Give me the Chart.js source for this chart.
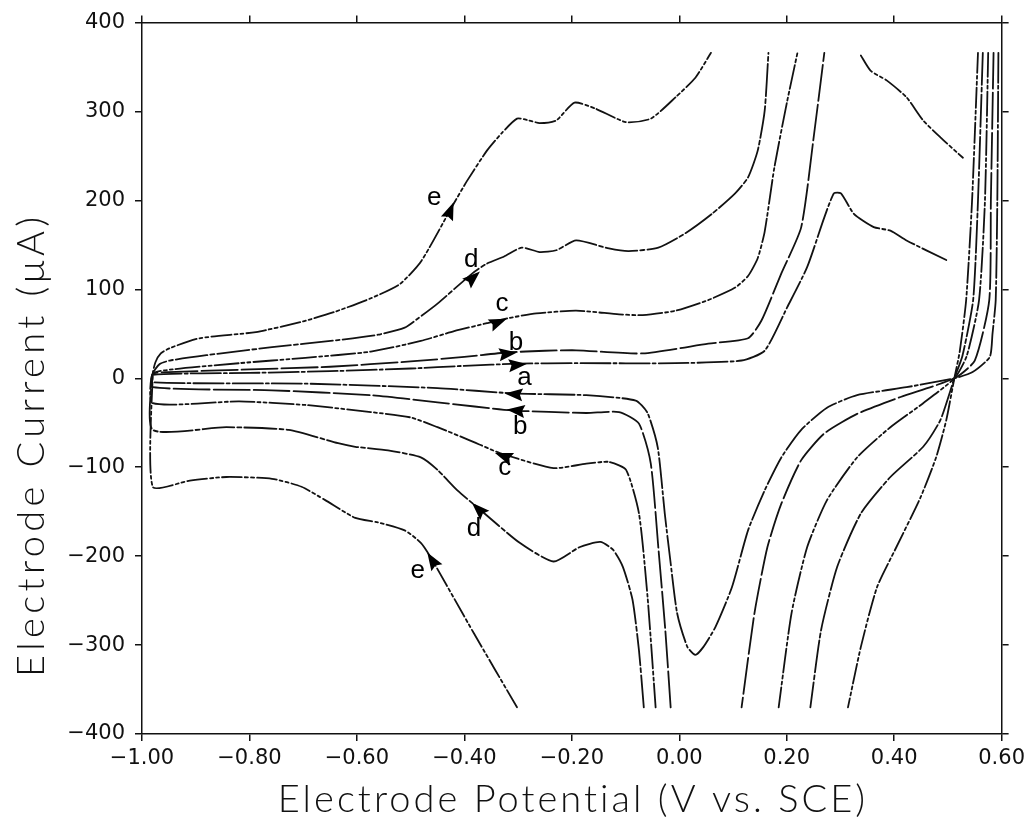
<!DOCTYPE html>
<html>
<head>
<meta charset="utf-8">
<title>Cyclic voltammograms a–e</title>
<script src="https://cdn.jsdelivr.net/npm/chart.js@4.4.1/dist/chart.umd.min.js"></script>
<style>
  html, body { margin: 0; padding: 0; background: #fff; }
  #wrap { width: 1030px; height: 829px; }
</style>
</head>
<body>
<div id="wrap"><canvas id="cv" width="1030" height="829"></canvas></div>
<script>
// Potential (V vs. SCE) and current (µA) for each sweep; null marks where the trace leaves the recorder range.
const curveAPotential = [0.594,0.592,0.589,0.583,0.578,0.546,0.512,0.423,0.331,0.275,0.227,0.190,0.159,0.128,0.098,0.067,0.045,0.030,0.015,-0.004,-0.016,-0.027,-0.040,-0.059,-0.081,-0.173,-0.308,-0.450,-0.696,-0.980,-0.980,-0.80,-0.65,-0.50,-0.40,-0.30,-0.192,-0.007,0.116,0.159,0.201,0.238,0.270,0.288,0.301,0.325,0.362,0.393,0.423,0.497];
const curveACurrent   = [366,200,88,50,24,7,0,-10,-19,-33,-58,-89,-126,-171,-235,-280,-302,-311,-302,-264,-208,-152,-78,-39,-25,-19,-17,-11,-6,-4.5,4,6,8,11,14,16.5,17,17,20,31,80,125,181,208,208,185,170,166,155,133];

const curveBPotential = [0.585,0.580,0.577,0.550,0.512,0.412,0.331,0.270,0.227,0.190,0.164,0.140,0.116,null,-0.016,-0.026,-0.039,-0.053,-0.075,-0.112,-0.173,-0.312,-0.450,-0.574,-0.758,-0.980,-0.980,-0.95,-0.80,-0.65,-0.50,-0.40,-0.321,-0.25,-0.192,-0.068,0.054,0.128,0.153,0.190,0.227,0.251,0.270];
const curveBCurrent   = [366,200,88,20,0,-21,-40,-62,-92,-141,-190,-264,-370,null,-370,-283,-190,-96,-51,-38,-39,-36,-27,-19,-13.5,-10,5,7,10,13,19,24,29,31,31.5,28,39,45,65,118,170,275,366];

const curveCPotential = [0.575,0.569,0.558,0.535,0.512,0.454,0.393,0.331,0.275,0.238,0.209,0.185,null,-0.044,-0.059,-0.075,-0.099,-0.131,-0.173,-0.234,-0.334,-0.389,-0.450,-0.500,-0.574,-0.696,-0.819,-0.980,-0.980,-0.943,-0.819,-0.696,-0.574,-0.481,-0.419,-0.358,-0.315,-0.266,-0.192,-0.112,-0.068,-0.007,0.054,0.104,0.128,0.146,0.159,0.177,0.201,0.220];
const curveCCurrent   = [366,200,88,25,0,-28,-55,-89,-137,-190,-264,-370,null,-370,-246,-152,-103,-94,-96,-101,-84,-70,-55,-44,-38,-30,-26,-28,5,10,17,23,30,42,53,62,68,73,76,72,71,76,88,102,115,135,165,237,312,366];

const curveDPotential = [0.565,0.556,0.547,0.527,0.512,0.486,0.454,0.393,0.338,0.294,0.264,0.244,null,-0.066,-0.075,-0.087,-0.105,-0.123,-0.147,-0.186,-0.234,-0.297,-0.376,-0.413,-0.450,-0.481,-0.542,-0.603,-0.635,-0.727,-0.843,-0.980,-0.980,-0.967,-0.948,-0.880,-0.758,-0.635,-0.561,-0.511,-0.487,-0.450,-0.385,-0.358,-0.326,-0.293,-0.260,-0.229,-0.192,-0.131,-0.094,-0.039,0.011,0.061,0.104,0.128,0.146,0.159,0.166];
const curveDCurrent   = [366,200,88,25,0,-47,-77,-111,-152,-212,-283,-370,null,-370,-306,-249,-212,-193,-184,-190,-206,-185,-145,-126,-103,-89,-81,-77,-73,-58,-55,-58,5,16,20,26,35,43,49,57,67,84,118,129,137,147,142,144,155,146,143,147,163,185,208,226,256,301,366];

const curveEPotential = [0.556,0.545,0.534,0.522,0.512,0.497,0.478,0.449,0.404,0.368,0.338,0.314,null,-0.302,-0.382,-0.463,-0.481,-0.511,-0.561,-0.603,-0.659,-0.703,-0.758,-0.843,-0.911,-0.980,-0.980,-0.975,-0.965,-0.948,-0.893,-0.788,-0.700,-0.640,-0.574,-0.520,-0.480,-0.422,-0.395,-0.358,-0.330,-0.302,-0.280,-0.260,-0.229,-0.195,-0.155,-0.099,-0.053,-0.007,0.030,0.059,null,0.338,0.356,0.386,0.423,0.454,0.486,0.528];
const curveECurrent   = [366,200,88,30,0,-47,-89,-134,-190,-235,-302,-370,null,-370,-287,-201,-185,-171,-162,-157,-137,-122,-113,-111,-115,-122,5,18,28,34,45,52,64,75,90,106,132,194,222,256,276,292,290,287,290,310,303,288,292,316,338,366,null,363,346,335,316,290,271,248];

// Axis ticks
const potentialTicks = [-1.00,-0.80,-0.60,-0.40,-0.20,0.00,0.20,0.40,0.60];
const currentTicks   = [-400,-300,-200,-100,0,100,200,300,400];

// Sweep-direction arrows (tip and tail on the trace) and curve letters
const arrowTips  = [[-0.420,198],[-0.371,120],[-0.321,67],[-0.302,29],[-0.284,16],[-0.325,-17],[-0.321,-35],[-0.343,-84],[-0.386,-140],[-0.469,-196]];
const arrowTails = [[-0.445,160],[-0.395,107],[-0.358,58],[-0.343,26],[-0.330,13.5],[-0.284,-19],[-0.278,-38],[-0.306,-92],[-0.352,-160],[-0.446,-218]];
const letterText      = ['e','d','c','b','a','b','c','d','e'];
const letterPotential = [-0.456,-0.387,-0.330,-0.304,-0.288,-0.296,-0.325,-0.382,-0.487];
const letterCurrent   = [203,133,84,40,1,-55,-101,-169,-216];

const xTitle = 'Electrode Potential (V vs. SCE)';
const yTitle = 'Electrode Current (\u03BCA)';

function toPoints(xs, ys) {
  return xs.map((x, i) => ({ x: x === null ? null : x, y: ys[i] }));
}
function fmtPotential(v) {
  const s = Math.abs(v).toFixed(2);
  return (v < -1e-9 ? '\u2212' : '') + s;
}
function fmtCurrent(v) {
  return (v < 0 ? '\u2212' : '') + Math.abs(v);
}

const lineBase = {
  showLine: true, pointRadius: 0, pointHoverRadius: 0, borderColor: '#121212',
  borderWidth: 1.8, tension: 0.2, spanGaps: false, fill: false,
  borderCapStyle: 'round', borderJoinStyle: 'round'
};

const datasets = [
  Object.assign({ label: 'a', data: toPoints(curveAPotential, curveACurrent), borderDash: [30,3,3,3] }, lineBase),
  Object.assign({ label: 'b', data: toPoints(curveBPotential, curveBCurrent), borderDash: [36,4] }, lineBase),
  Object.assign({ label: 'c', data: toPoints(curveCPotential, curveCCurrent), borderDash: [24,3,3,3,3,3] }, lineBase),
  Object.assign({ label: 'd', data: toPoints(curveDPotential, curveDCurrent), borderDash: [32,3,4,3] }, lineBase),
  Object.assign({ label: 'e', data: toPoints(curveEPotential, curveECurrent), borderDash: [20,3,3,3,3,3] }, lineBase)
];

// Draw a string spread evenly over a given length, centred on (cx, cy)
function spreadText(ctx, text, cx, cy, length) {
  ctx.letterSpacing = '0px';
  const w = ctx.measureText(text).width;
  const gap = Math.max(0, (length - w) / (text.length - 1));
  ctx.letterSpacing = gap + 'px';
  ctx.textAlign = 'left';
  ctx.fillText(text, cx - length / 2, cy);
  ctx.letterSpacing = '0px';
}

const annotate = {
  id: 'annotate',
  afterDatasetsDraw(chart) {
    const ctx = chart.ctx, xs = chart.scales.x, ys = chart.scales.y;
    ctx.save();
    ctx.fillStyle = '#000';
    arrowTips.forEach((tip, i) => {
      const tail = arrowTails[i];
      const tx = xs.getPixelForValue(tip[0]), ty = ys.getPixelForValue(tip[1]);
      const bx = xs.getPixelForValue(tail[0]), by = ys.getPixelForValue(tail[1]);
      const ang = Math.atan2(ty - by, tx - bx);
      const len = 18, half = 6.5;
      const c = Math.cos(ang), s = Math.sin(ang);
      ctx.beginPath();
      ctx.moveTo(tx, ty);
      ctx.lineTo(tx - len * c + half * s, ty - len * s - half * c);
      ctx.lineTo(tx - len * c * 0.85, ty - len * s * 0.85);
      ctx.lineTo(tx - len * c - half * s, ty - len * s + half * c);
      ctx.closePath();
      ctx.fill();
    });
    ctx.font = '26px "Liberation Sans", Arial, sans-serif';
    ctx.textAlign = 'center';
    ctx.textBaseline = 'middle';
    letterText.forEach((t, i) => {
      ctx.fillText(t, xs.getPixelForValue(letterPotential[i]), ys.getPixelForValue(letterCurrent[i]));
    });
    ctx.restore();
  },
  afterDraw(chart) {
    const ctx = chart.ctx, a = chart.chartArea;
    ctx.save();
    ctx.fillStyle = '#111';
    ctx.font = '300 38px Lato, "DejaVu Sans", sans-serif';
    ctx.textBaseline = 'alphabetic';
    spreadText(ctx, xTitle, (a.left + a.right) / 2, 812, 588);
    ctx.translate(44, 447);
    ctx.rotate(-Math.PI / 2);
    spreadText(ctx, yTitle, 0, 0, 460);
    ctx.restore();
  }
};

const frameBorder = { display: true, color: '#111', width: 1.5, dash: [40,3,3,3] };
const frameGrid = { display: true, drawOnChartArea: false, drawTicks: true, tickLength: 7, color: '#111', lineWidth: 1.5 };
const tickFont = { family: '"DejaVu Sans", sans-serif', size: 21 };

new Chart(document.getElementById('cv'), {
  type: 'scatter',
  data: { datasets },
  options: {
    responsive: false,
    animation: false,
    layout: { padding: 0 },
    plugins: { legend: { display: false }, tooltip: { enabled: false } },
    scales: {
      x: {
        type: 'linear', position: 'bottom', min: -1, max: 0.6,
        afterBuildTicks: s => { s.ticks = potentialTicks.map(v => ({ value: v })); },
        afterFit: s => { s.height = 95; },
        ticks: { color: '#111', font: tickFont, padding: 5, maxRotation: 0, autoSkip: false, callback: v => fmtPotential(v) },
        grid: frameGrid, border: frameBorder
      },
      x2: {
        type: 'linear', position: 'top', min: -1, max: 0.6,
        afterBuildTicks: s => { s.ticks = potentialTicks.map(v => ({ value: v })); },
        afterFit: s => { s.height = 22; },
        ticks: { display: false },
        grid: frameGrid, border: frameBorder
      },
      y: {
        type: 'linear', position: 'left', min: -400, max: 400,
        afterBuildTicks: s => { s.ticks = currentTicks.map(v => ({ value: v })); },
        afterFit: s => { s.width = 142; },
        ticks: { color: '#111', font: tickFont, padding: 10, callback: v => fmtCurrent(v) },
        grid: frameGrid, border: frameBorder
      },
      y2: {
        type: 'linear', position: 'right', min: -400, max: 400,
        afterBuildTicks: s => { s.ticks = currentTicks.map(v => ({ value: v })); },
        afterFit: s => { s.width = 21; },
        ticks: { display: false },
        grid: frameGrid, border: frameBorder
      }
    }
  },
  plugins: [annotate]
});
</script>
</body>
</html>
